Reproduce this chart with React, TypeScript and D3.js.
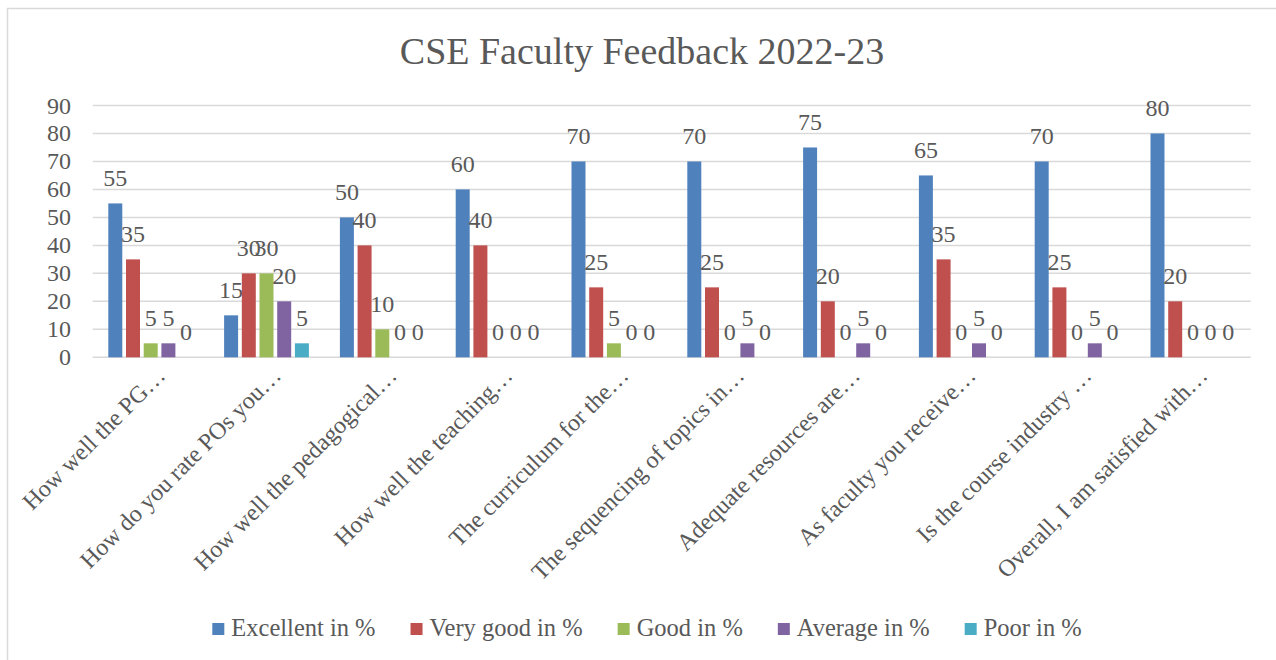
import React, { useEffect, useRef } from "react";
import * as d3 from "d3";

const categories = [
  "How well the PG…",
  "How do you rate POs you…",
  "How well the pedagogical…",
  "How well the teaching…",
  "The curriculum for the…",
  "The sequencing of topics in…",
  "Adequate resources are…",
  "As faculty you receive…",
  "Is the course industry …",
  "Overall, I am satisfied with…",
];
const seriesNames = ["Excellent in %", "Very good in %", "Good in %", "Average in %", "Poor in %"];
const excellent = [55, 15, 50, 60, 70, 70, 75, 65, 70, 80];
const veryGood = [35, 30, 40, 40, 25, 25, 20, 35, 25, 20];
const good = [5, 30, 10, 0, 5, 0, 0, 0, 0, 0];
const average = [5, 20, 0, 0, 0, 5, 5, 5, 5, 0];
const poor = [0, 5, 0, 0, 0, 0, 0, 0, 0, 0];
const seriesValues = [excellent, veryGood, good, average, poor];
const colors = ["#4F81BD", "#C0504D", "#9BBB59", "#8064A2", "#4BACC6"];
const yTicks = [0, 10, 20, 30, 40, 50, 60, 70, 80, 90];
const title = "CSE Faculty Feedback 2022-23";

const W = 1276;
const H = 660;
const FONT = "'Liberation Serif', 'Times New Roman', serif";
const TEXT = "#595959";

export default function App() {
  const ref = useRef<SVGSVGElement>(null);
  useEffect(() => {
    const svg = d3.select(ref.current);
    svg.selectAll("*").remove();

    svg.append("rect").attr("x", 0).attr("y", 0).attr("width", W).attr("height", H).attr("fill", "#fff");
    svg
      .append("rect")
      .attr("x", 7.5)
      .attr("y", 8.5)
      .attr("width", W)
      .attr("height", H)
      .attr("fill", "none")
      .attr("stroke", "#D9D9D9")
      .attr("stroke-width", 1.5);

    const x0 = d3.scaleBand<string>().domain(categories).range([92.8, 1250.8]).padding(0);
    const x1 = d3
      .scaleBand<number>()
      .domain(d3.range(seriesNames.length))
      .range([0, x0.bandwidth()])
      .paddingInner(0.21)
      .paddingOuter(0.876);
    const y = d3.scaleLinear().domain([0, 90]).range([357.3, 105.5]);

    svg
      .append("text")
      .attr("x", 642)
      .attr("y", 64)
      .attr("text-anchor", "middle")
      .attr("font-family", FONT)
      .attr("font-size", 38)
      .attr("fill", TEXT)
      .text(title);

    svg
      .append("g")
      .selectAll("line")
      .data(yTicks)
      .join("line")
      .attr("x1", 92.8)
      .attr("x2", 1250.8)
      .attr("y1", (d) => y(d))
      .attr("y2", (d) => y(d))
      .attr("stroke", "#D9D9D9")
      .attr("stroke-width", 1.5);

    svg
      .append("g")
      .selectAll("text")
      .data(yTicks)
      .join("text")
      .attr("x", 71)
      .attr("y", (d) => y(d) + 8)
      .attr("text-anchor", "end")
      .attr("font-family", FONT)
      .attr("font-size", 24)
      .attr("fill", TEXT)
      .text((d) => String(d));

    seriesValues.forEach((vals, si) => {
      const g = svg.append("g");
      g.selectAll("rect")
        .data(vals)
        .join("rect")
        .attr("x", (_, i) => (x0(categories[i]) as number) + (x1(si) as number))
        .attr("width", x1.bandwidth())
        .attr("y", (d) => y(d))
        .attr("height", (d) => y(0) - y(d))
        .attr("fill", colors[si]);
      g.selectAll("text")
        .data(vals)
        .join("text")
        .attr("x", (_, i) => (x0(categories[i]) as number) + (x1(si) as number) + x1.bandwidth() / 2)
        .attr("y", (d) => y(d) - 17.5)
        .attr("text-anchor", "middle")
        .attr("font-family", FONT)
        .attr("font-size", 24)
        .attr("fill", TEXT)
        .text((d) => String(d));
    });

    svg
      .append("g")
      .selectAll("text")
      .data(categories)
      .join("text")
      .attr("transform", (d) => {
        const cx = (x0(d) as number) + x0.bandwidth() / 2 + 16;
        return `translate(${cx},377) rotate(-45)`;
      })
      .attr("text-anchor", "end")
      .attr("font-family", FONT)
      .attr("font-size", 24)
      .attr("fill", TEXT)
      .text((d) => d);

    const lg = svg.append("g");
    const items = lg.selectAll("g").data(seriesNames).join("g");
    items
      .append("rect")
      .attr("width", 12)
      .attr("height", 12)
      .attr("y", 623)
      .attr("fill", (_, i) => colors[i]);
    const texts = items
      .append("text")
      .attr("x", 19)
      .attr("y", 636)
      .attr("font-family", FONT)
      .attr("font-size", 24.5)
      .attr("fill", TEXT)
      .text((d) => d);
    const widths: number[] = [];
    texts.each(function () {
      widths.push((this as SVGTextElement).getComputedTextLength());
    });
    const gap = 35;
    const itemW = widths.map((w) => 19 + w);
    const total = d3.sum(itemW) + gap * (itemW.length - 1);
    let cur = 647 - total / 2;
    items.attr("transform", (_, i) => {
      const t = `translate(${cur},0)`;
      cur += itemW[i] + gap;
      return t;
    });
  }, []);

  return (
    <svg
      ref={ref}
      width={W}
      height={H}
      style={{ position: "absolute", left: 0, top: 0, display: "block" }}
    />
  );
}
